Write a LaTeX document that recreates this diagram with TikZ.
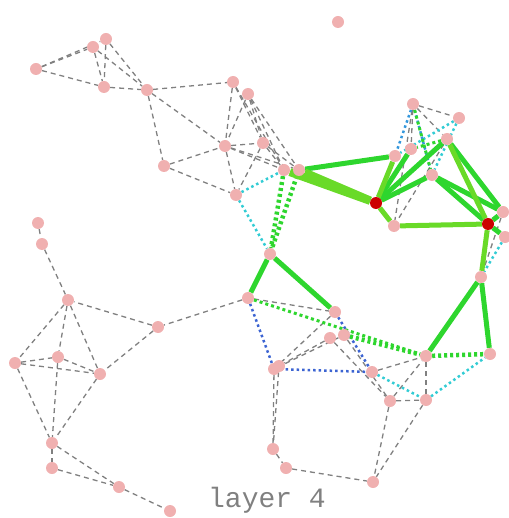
\documentclass[tikz,border=0pt]{standalone}
\usepackage{fontspec}
\setmonofont{Liberation Mono}
\pgfdeclarelayer{bg}
\pgfsetlayers{bg,main}
\definecolor{nodepink}{RGB}{240,176,176}
\definecolor{nodered}{RGB}{204,0,0}
\definecolor{edgegray}{RGB}{128,128,128}
\definecolor{grn}{RGB}{46,214,46}
\definecolor{lgrn}{RGB}{105,218,40}
\definecolor{cyn}{RGB}{50,204,212}
\definecolor{blu}{RGB}{60,100,210}
\definecolor{lblu}{RGB}{50,150,220}
\tikzset{
 nd/.style={circle, fill=nodepink, inner sep=0pt, minimum size=12pt},
 rd/.style={circle, fill=nodered, inner sep=0pt, minimum size=12pt},
 gd/.style={draw=edgegray, line width=1.3pt, dash pattern=on 5pt off 4pt},
 gs/.style={draw=grn, line width=5pt},
 lg/.style={draw=lgrn, line width=5pt},
 lgt/.style={draw=lgrn, line width=8pt},
 cy/.style={draw=cyn, line width=2.5pt, dash pattern=on 2.5pt off 3pt},
 bl/.style={draw=blu, line width=2.5pt, dash pattern=on 2.5pt off 3pt},
 lb/.style={draw=lblu, line width=2.5pt, dash pattern=on 2.5pt off 3pt},
 gdot/.style={draw=grn, line width=4.5pt, dash pattern=on 3pt off 3pt},
 gdt/.style={draw=grn, line width=3pt, dash pattern=on 3pt off 3pt},
}
\begin{document}
\begin{tikzpicture}[x=1pt,y=-1pt]
\useasboundingbox (0,0) rectangle (508,518);
% top-left cluster
\node[nd] (A1) at (36,69) {};
\node[nd] (A2) at (93,47) {};
\node[nd] (A3) at (106,39) {};
\node[nd] (A4) at (104,87) {};
\node[nd] (A5) at (147,90) {};
\node[nd] (A6) at (233,82) {};
\node[nd] (A7) at (248,94) {};
\node[nd] (A8) at (225,146) {};
\node[nd] (A9) at (263,143) {};
\node[nd] (A10) at (164,166) {};
\node[nd] (A11) at (236,195) {};
\node[nd] (A12) at (284,170) {};
\node[nd] (A13) at (299,170) {};
\node[nd] (Z) at (338,22) {};
% middle
\node[nd] (B1) at (270,254) {};
\node[nd] (B2) at (248,298) {};
\node[nd] (B3) at (158,327) {};
\node[nd] (B4) at (335,312) {};
\node[nd] (B5) at (330,338) {};
\node[nd] (B6) at (344,335) {};
\node[nd] (B7) at (279,366) {};
\node[nd] (B8) at (274,369) {};
\node[nd] (B9) at (372,372) {};
\node[nd] (B10) at (390,401) {};
\node[nd] (B11) at (426,400) {};
\node[nd] (B12) at (426,356) {};
\node[nd] (B13) at (490,354) {};
\node[nd] (B14) at (481,277) {};
\node[nd] (B15) at (273,449) {};
\node[nd] (B16) at (286,468) {};
\node[nd] (B17) at (373,482) {};
% right cluster
\node[nd] (C1) at (413,104) {};
\node[nd] (C2) at (459,118) {};
\node[nd] (C3) at (447,139) {};
\node[nd] (C4) at (411,149) {};
\node[nd] (C5) at (395,156) {};
\node[nd] (C6) at (432,175) {};
\node[rd] (C7) at (376,203) {};
\node[nd] (C8) at (394,226) {};
\node[rd] (C9) at (488,224) {};
\node[nd] (C10) at (503,212) {};
\node[nd] (C11) at (505,237) {};
% bottom-left cluster
\node[nd] (D1) at (38,223) {};
\node[nd] (D2) at (42,244) {};
\node[nd] (D3) at (68,300) {};
\node[nd] (D4) at (15,363) {};
\node[nd] (D5) at (58,357) {};
\node[nd] (D6) at (100,374) {};
\node[nd] (D7) at (52,443) {};
\node[nd] (D8) at (52,468) {};
\node[nd] (D9) at (119,487) {};
\node[nd] (D10) at (170,511) {};
\node[text=edgegray, font=\ttfamily\fontsize{28}{28}\selectfont] (lbl) at (267,500) {layer 4};
\begin{pgfonlayer}{bg}
% gray dashed
\foreach \a/\b in {A1/A2,A1/A3,A1/A4,A2/A4,A3/A4,A2/A5,A3/A5,A4/A5,A5/A6,A5/A8,A5/A10,
 A6/A8,A6/A9,A6/A12,A7/A8,A7/A9,A7/A12,A7/A13,A8/A9,A8/A12,A8/A13,A9/A12,A9/A13,
 A8/A11,A9/A11,A10/A8,A10/A11,
 C1/C2,C1/C3,C1/C4,C3/C8,C1/C8,C10/B14,
 B2/B4,B2/B3,B3/D3,B3/D6,B4/B8,B5/B7,B6/B8,B5/B10,B6/B10,B9/B12,B10/B12,B11/B12,B10/B11,
 B10/B17,B11/B17,B7/B15,B8/B15,B15/B16,B16/B17,
 D1/D2,D2/D3,D3/D4,D3/D5,D3/D6,D4/D5,D4/D6,D5/D6,D4/D7,D5/D7,D6/D7,D7/D8,D7/D9,D8/D9,D9/D10}
 \draw[gd] (\a) -- (\b);
% cyan dotted
\foreach \a/\b in {A11/A12,A11/B1,C2/C5,C2/C6,C11/B14,B9/B11,B11/B13}
 \draw[cy] (\a) -- (\b);
% blue dotted
\foreach \a/\b in {B2/B8,B8/B9,B4/B9}
 \draw[bl] (\a) -- (\b);
\foreach \a/\b in {C1/C5,C1/C6}
 \draw[lb] (\a) -- (\b);
% green dotted
\draw[gdot] (A12) -- (B1);
\draw[gdot] (A13) -- (B1);
\draw[gdt] (B2) -- (B12);
\draw[gdot] (B6) -- (B12);
\draw[gdot] (B12) -- (B13);
\draw[gdt] (C3) -- (C4);
\draw[gdt] (C1) -- (C6);
% green solid
\foreach \a/\b in {A13/C5,C7/C4,C7/C3,C7/C6,C3/C10,C6/C10,C6/C9,C9/C10,C9/C11,
 B1/B4,B1/B2,B14/B12,B14/B13}
 \draw[gs] (\a) -- (\b);
\foreach \a/\b in {C7/C5,C7/C8,C8/C9,C3/C9,C9/B14}
 \draw[lg] (\a) -- (\b);
\draw[lgt] (A12) -- (C7);
\draw[lgt] (A13) -- (C7);
\end{pgfonlayer}
\end{tikzpicture}
\end{document}
